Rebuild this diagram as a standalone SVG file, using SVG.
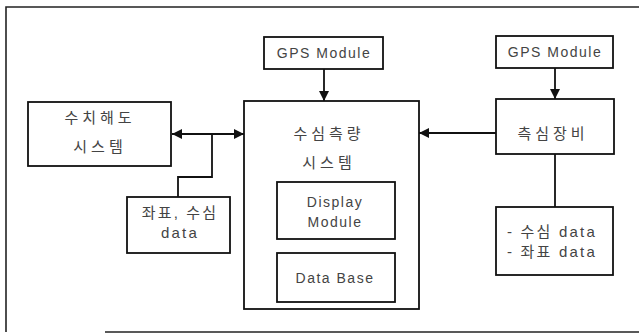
<svg xmlns="http://www.w3.org/2000/svg" width="639" height="335" viewBox="0 0 639 335">
  <defs>
    <style>
      .box { fill: #fff; stroke: #111; stroke-width: 1.8; }
      .frame { fill: none; stroke: #222; stroke-width: 1.6; }
      .line { fill: none; stroke: #111; stroke-width: 1.8; }
      .ko { font-family: "Noto Sans CJK KR", "Noto Sans", sans-serif; font-size: 15px; fill: #444; letter-spacing: 4px; }
      .en { font-family: "Liberation Sans", Arial, sans-serif; font-size: 14px; fill: #444; letter-spacing: 1.5px; }
      .mix { font-family: "Liberation Sans", "Noto Sans CJK KR", sans-serif; font-size: 15px; fill: #444; letter-spacing: 2.2px; }
    </style>
    <marker id="arrow" viewBox="0 0 10 10" refX="10" refY="5" markerWidth="10" markerHeight="10" markerUnits="userSpaceOnUse" orient="auto-start-reverse">
      <path d="M0,0 L10,5 L0,10 Z" fill="#111"/>
    </marker>
  </defs>

  <rect width="639" height="335" fill="#fff"/>

  <!-- outer frame -->
  <g id="frame">
    <path class="frame" d="M639,7 L6,7 L6,332"/>
    <path class="frame" d="M105,332 L639,332"/>
  </g>

  <!-- connectors -->
  <g id="connectors">
    <line class="line" x1="172" y1="134" x2="244" y2="134" marker-start="url(#arrow)" marker-end="url(#arrow)"/>
    <path class="line" d="M212,134 L212,177 L178,177 L178,197"/>
    <line class="line" x1="324" y1="69" x2="324" y2="101" marker-end="url(#arrow)"/>
    <line class="line" x1="555" y1="68" x2="555" y2="99" marker-end="url(#arrow)"/>
    <line class="line" x1="496" y1="133" x2="419" y2="133" marker-end="url(#arrow)"/>
    <line class="line" x1="555" y1="154" x2="555" y2="207"/>
  </g>

  <g id="chart-system">
    <rect class="box" x="28" y="102" width="143" height="64"/>
    <text class="ko" x="100" y="123" text-anchor="middle">수치해도</text>
    <text class="ko" x="100" y="152" text-anchor="middle">시스템</text>
  </g>

  <g id="gps-left">
    <rect class="box" x="264" y="37" width="119" height="32"/>
    <text class="en" x="324" y="58" text-anchor="middle">GPS Module</text>
  </g>

  <g id="survey-system">
    <rect class="box" x="244" y="101" width="175" height="208"/>
    <text class="ko" x="329" y="139" text-anchor="middle">수심측량</text>
    <text class="ko" x="329" y="168" text-anchor="middle">시스템</text>
  </g>

  <g id="display-module">
    <rect class="box" x="277" y="182" width="118" height="57"/>
    <text class="en" x="335" y="207" text-anchor="middle">Display</text>
    <text class="en" x="335" y="227" text-anchor="middle">Module</text>
  </g>

  <g id="data-base">
    <rect class="box" x="277" y="253" width="118" height="49"/>
    <text class="en" x="335" y="283" text-anchor="middle">Data Base</text>
  </g>

  <g id="gps-right">
    <rect class="box" x="496" y="36" width="117" height="32"/>
    <text class="en" x="555" y="57" text-anchor="middle">GPS Module</text>
  </g>

  <g id="sounder">
    <rect class="box" x="496" y="99" width="118" height="55"/>
    <text class="ko" x="553" y="139" text-anchor="middle">측심장비</text>
  </g>

  <g id="sounder-data">
    <rect class="box" x="496" y="207" width="117" height="68"/>
    <text class="mix" x="507" y="237">- 수심 data</text>
    <text class="mix" x="507" y="257">- 좌표 data</text>
  </g>

  <g id="coord-data">
    <rect class="box" x="127" y="197" width="103" height="56"/>
    <text class="mix" x="180" y="218" text-anchor="middle">좌표, 수심</text>
    <text class="mix" x="180" y="238" text-anchor="middle">data</text>
  </g>
</svg>
